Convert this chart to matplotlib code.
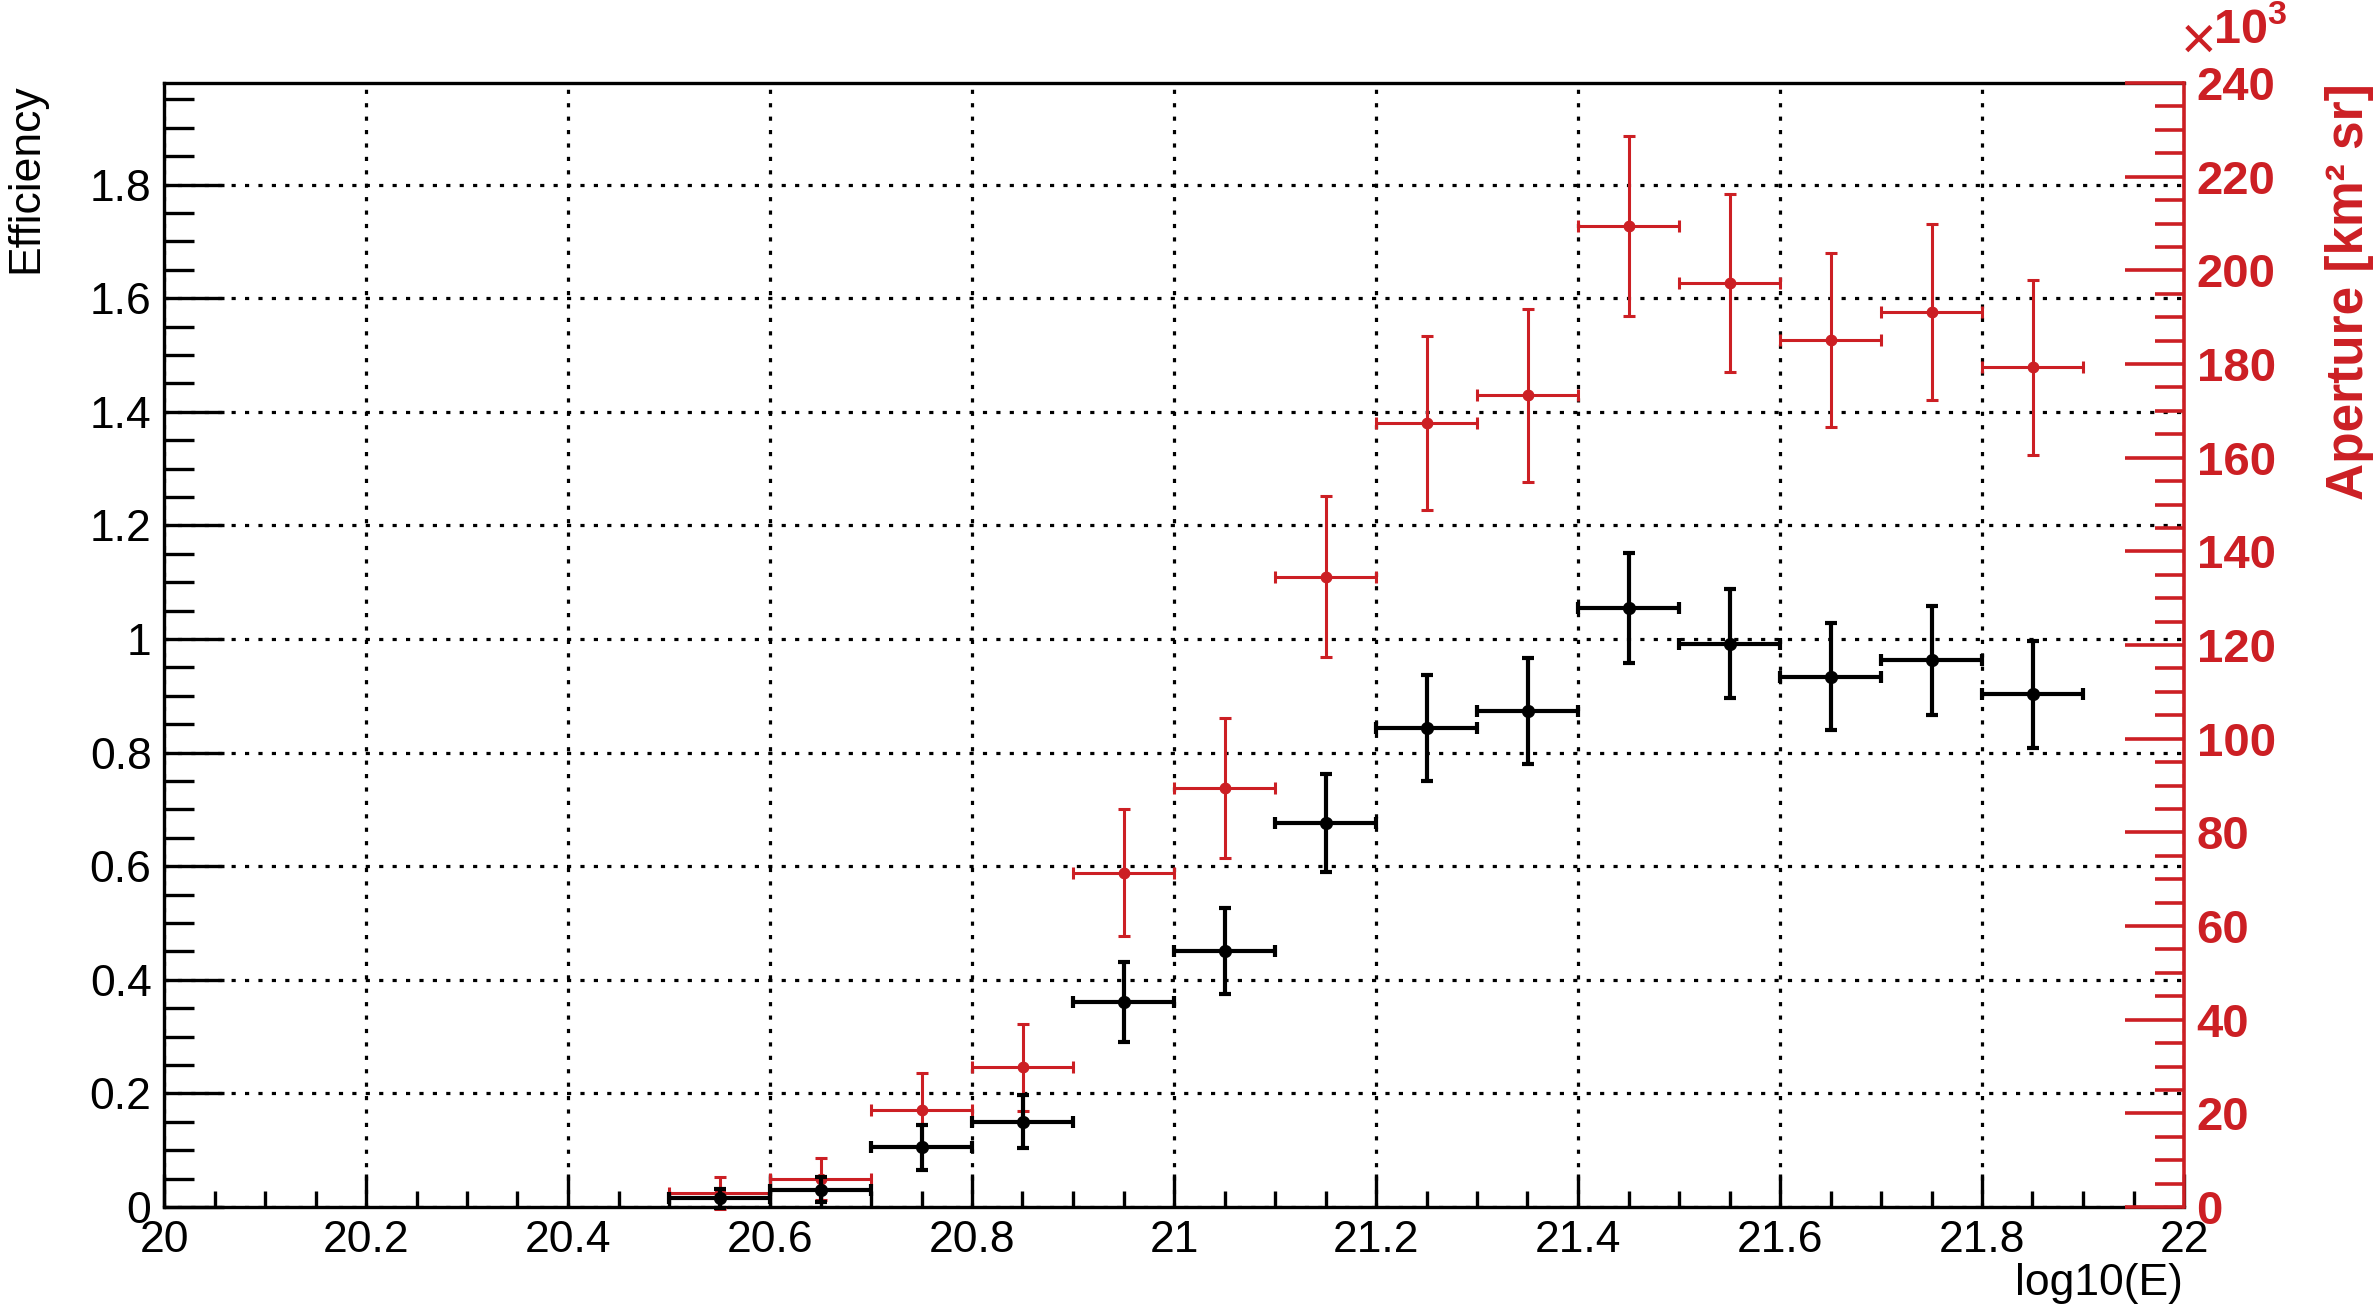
import matplotlib
matplotlib.use("Agg")
import matplotlib.pyplot as plt
from matplotlib.ticker import MultipleLocator, FuncFormatter

plt.rcParams['font.family'] = ['Liberation Sans', 'DejaVu Sans']
plt.rcParams['mathtext.fontset'] = 'custom'
plt.rcParams['mathtext.rm'] = 'Liberation Sans'
plt.rcParams['mathtext.bf'] = 'Liberation Sans:bold'

# ---- data ----
log_energy = [20.55, 20.65, 20.75, 20.85, 20.95, 21.05, 21.15,
              21.25, 21.35, 21.45, 21.55, 21.65, 21.75, 21.85]
bin_half_width = [0.05] * 14
efficiency = [0.015, 0.030, 0.105, 0.150, 0.361, 0.451, 0.676,
              0.843, 0.873, 1.054, 0.992, 0.934, 0.963, 0.903]
efficiency_err = [0.017, 0.022, 0.040, 0.047, 0.070, 0.076, 0.087,
                  0.093, 0.093, 0.097, 0.096, 0.095, 0.096, 0.094]
aperture_k = [3.0, 6.0, 20.8, 29.8, 71.4, 89.5, 134.6,
              167.4, 173.3, 209.5, 197.3, 185.2, 191.2, 179.3]
aperture_err_k = [3.4, 4.4, 7.9, 9.3, 13.6, 15.0, 17.2,
                  18.5, 18.5, 19.2, 19.1, 18.6, 18.8, 18.7]

RED = '#cc1f24'
W, H = 2376, 1306
fig = plt.figure(figsize=(W / 100, H / 100), dpi=100)
L, R, T, B = 164, 2184, 83, 1207
rect = [L / W, 1 - B / H, (R - L) / W, (B - T) / H]

ax = fig.add_axes(rect)
ax.set_xlim(20, 22)
ax.set_ylim(0, 1.979)
ax.xaxis.set_major_locator(MultipleLocator(0.2))
ax.xaxis.set_minor_locator(MultipleLocator(0.05))
ax.yaxis.set_major_locator(MultipleLocator(0.2))
ax.yaxis.set_minor_locator(MultipleLocator(0.05))

def fmt(v, pos):
    s = f"{v:.1f}"
    if s.endswith('.0'):
        s = s[:-2]
    return s

ax.xaxis.set_major_formatter(FuncFormatter(fmt))
ax.yaxis.set_major_formatter(FuncFormatter(fmt))
ax.grid(True, which='major', color='black', linewidth=2.3,
        linestyle=(0, (1.3, 2.9)))
ax.set_axisbelow(True)
for s in ax.spines.values():
    s.set_linewidth(2.4)
ax.spines['right'].set_visible(False)
ax.tick_params(axis='x', which='major', direction='in', length=24, width=2.4,
               labelsize=32, pad=9, top=False)
ax.tick_params(axis='x', which='minor', direction='in', length=11.5, width=2.4, top=False)
ax.tick_params(axis='y', which='major', direction='in', length=43, width=2.4,
               labelsize=32, pad=9, right=False)
ax.tick_params(axis='y', which='minor', direction='in', length=21.5, width=2.4, right=False)

# red aperture axis
ax2 = ax.twinx()
ax2.set_ylim(0, 240)
ax2.yaxis.set_major_locator(MultipleLocator(20))
ax2.yaxis.set_minor_locator(MultipleLocator(5))
ax2.yaxis.set_major_formatter(FuncFormatter(lambda v, p: f"{v:.0f}"))
for k in ['left', 'top', 'bottom']:
    ax2.spines[k].set_visible(False)
ax2.spines['right'].set_color(RED)
ax2.spines['right'].set_linewidth(2.6)
ax2.tick_params(axis='y', which='major', direction='in', length=42.5, width=2.6,
                colors=RED, labelsize=34, pad=9)
ax2.tick_params(axis='y', which='minor', direction='in', length=21, width=2.6, colors=RED)
for lab in ax2.get_yticklabels():
    lab.set_fontweight('bold')
ax2.errorbar(log_energy, aperture_k, yerr=aperture_err_k, xerr=bin_half_width,
             fmt='o', color=RED, markersize=7.5, elinewidth=2.2, capsize=4,
             capthick=2.2, clip_on=False)

# efficiency data on top
ax3 = fig.add_axes(rect, sharex=ax, sharey=ax)
ax3.axis('off')
ax3.errorbar(log_energy, efficiency, yerr=efficiency_err, xerr=bin_half_width,
             fmt='o', color='black', markersize=8.5, elinewidth=3.0, capsize=4,
             capthick=3.0, clip_on=False)

# labels
fig.text(5 / W, 1 - 83 / H, 'Efficiency', rotation=90, ha='left', va='top',
         fontsize=32)
fig.text(2183 / W, 1 - 1263 / H, 'log10(E)', ha='right', va='top', fontsize=32)
fig.text(2374 / W, 1 - 83 / H, 'Aperture [km² sr]', rotation=90, ha='right',
         va='top', fontsize=37, fontweight='bold', color=RED)
fig.text(2181 / W, 1 - 59 / H, '×', ha='left', va='baseline', fontsize=44,
         color=RED)
fig.text(2213 / W, 1 - 53 / H, r'$\mathbf{10^{3}}$', ha='left', va='bottom',
         fontsize=35, color=RED)

fig.savefig('out.png', dpi=100)
